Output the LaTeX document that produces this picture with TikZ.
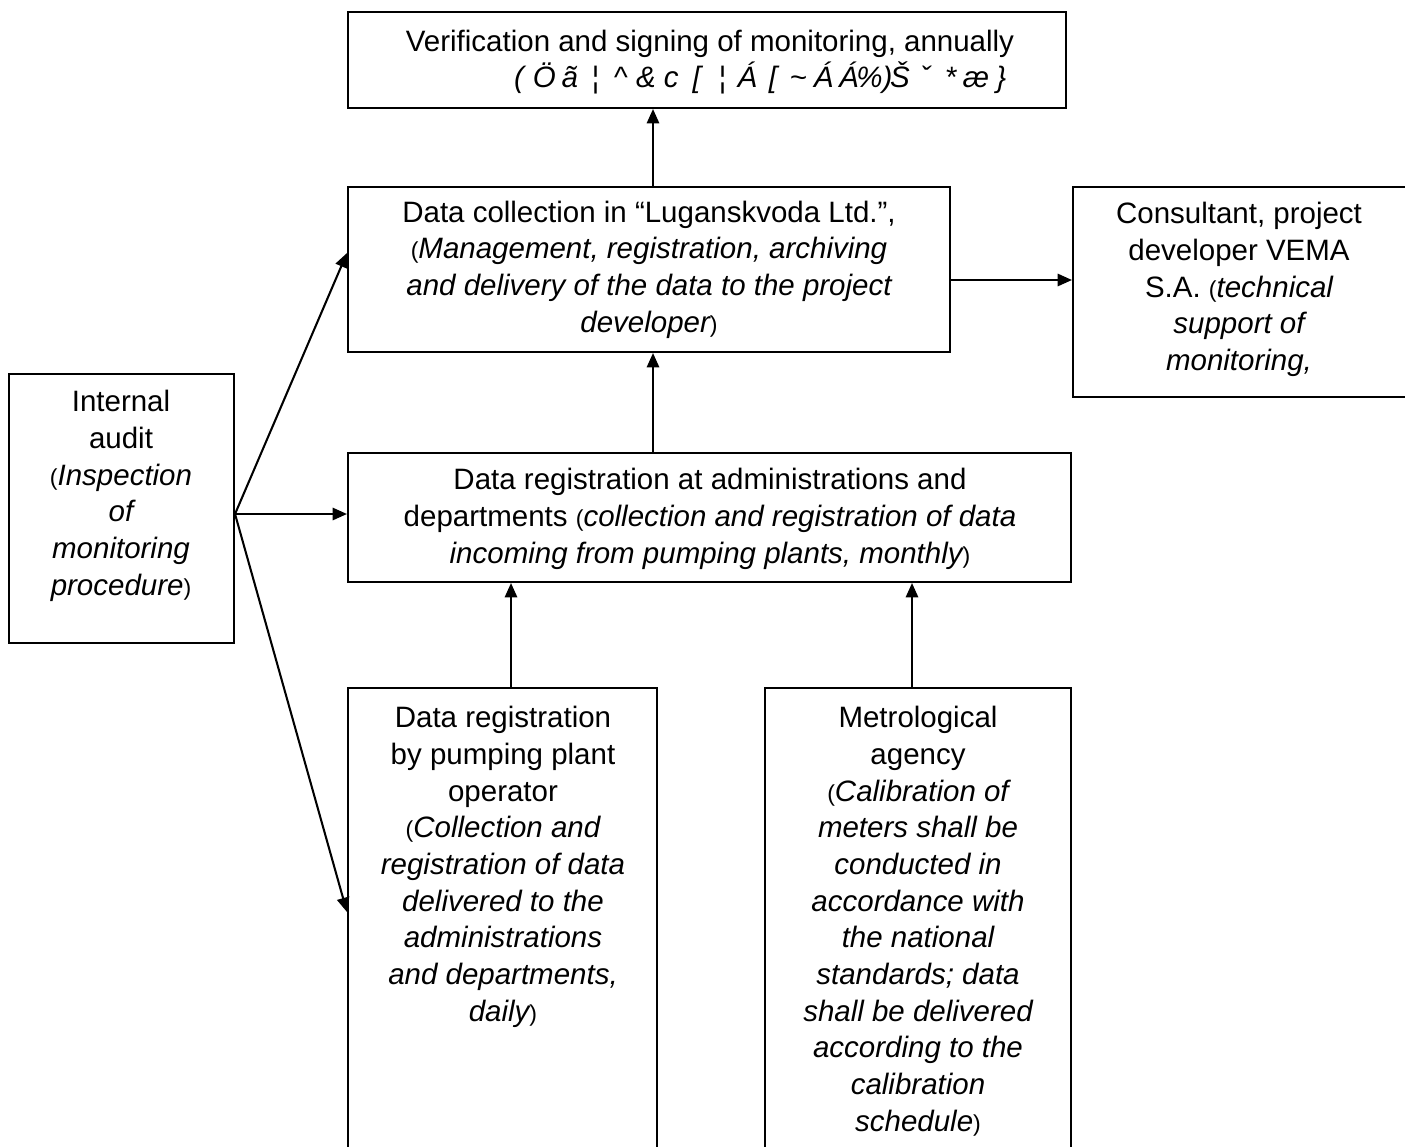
\documentclass[tikz,border=0pt]{standalone}
\usepackage{fontspec}
\setmainfont{Liberation Sans}
\usetikzlibrary{positioning, arrows.meta, fit, calc}

\newcommand{\lp}{{\upshape\small(}}
\newcommand{\rp}{{\upshape\small)}}
\newcommand{\gl}[1]{\makebox[9.9pt]{#1}}

\begin{document}
\begin{tikzpicture}[
    x=0.39pt, y=-0.39pt,
    font=\fontsize{11.5}{14.3}\selectfont,
    blk/.style={draw, line width=0.8pt, inner sep=0pt},
    txt/.style={align=center, inner sep=0pt},
    ar/.style={-{Triangle[length=5.6pt, width=4.8pt]}, line width=0.8pt},
  ]
  \clip (0,0) rectangle (1405,1146);
  \useasboundingbox (0,0) rectangle (1405,1146);

  % boxes
  \node[blk, fit={(348,12) (1066,108)}] (verif) {};
  \node[blk, fit={(348,187) (950,352)}] (dcoll) {};
  \node[blk, fit={(1073,187) (1420,397)}] (cons) {};
  \node[blk, fit={(9,374) (234,643)}] (audit) {};
  \node[blk, fit={(348,453) (1071,582)}] (admin) {};
  \node[blk, fit={(348,688) (657,1160)}] (oper) {};
  \node[blk, fit={(765,688) (1071,1160)}] (metro) {};

  % texts
  \node[txt, align=right] (verift) at (710,62) {Verification and signing of monitoring, annually\\
    \itshape \gl{(}\gl{Ö}\gl{ã}\gl{¦}\gl{\^{}}\gl{\&}\gl{c}\gl{[}\gl{¦}\gl{Á}\gl{[}\gl{\textasciitilde}\gl{Á}\gl{Á}\gl{\%)}\gl{Š}\gl{ˇ}\gl{*}\gl{æ}\gl{\}}};
  \node[txt] (dcollt) at (dcoll.center) {Data collection in “Luganskvoda Ltd.”,\\
    \itshape\lp Management, registration, archiving\\
    \itshape and delivery of the data to the project\\
    \itshape developer\rp};
  \node[txt, anchor=north] (const) at (1239,202) {Consultant, project\\
    developer VEMA\\
    S.A. \itshape\lp technical\\
    \itshape support of\\
    \itshape monitoring,};
  \node[txt, anchor=north] (auditt) at (121,390) {Internal\\
    audit\\
    \itshape\lp Inspection\\
    \itshape of\\
    \itshape monitoring\\
    \itshape procedure\rp};
  \node[txt] (admint) at (710,519) {Data registration at administrations and\\
    departments \itshape\lp collection and registration of data\\
    \itshape incoming from pumping plants, monthly\rp};
  \node[txt, anchor=north] (opert) at (503,706) {Data registration\\
    by pumping plant\\
    operator\\
    \itshape\lp Collection and\\
    \itshape registration of data\\
    \itshape delivered to the\\
    \itshape administrations\\
    \itshape and departments,\\
    \itshape daily\rp};
  \node[txt, anchor=north] (metrot) at (918,706) {Metrological\\
    agency\\
    \itshape\lp Calibration of\\
    \itshape meters shall be\\
    \itshape conducted in\\
    \itshape accordance with\\
    \itshape the national\\
    \itshape standards; data\\
    \itshape shall be delivered\\
    \itshape according to the\\
    \itshape calibration\\
    \itshape schedule\rp};

  % connectors
  \coordinate (fork) at (audit.east |- 0,514);
  \coordinate (dcollin) at (dcoll.west |- 0,253);
  \draw[ar] (dcoll.north -| 653,0) -- (verif.south -| 653,0);
  \draw[ar] (admin.north -| 653,0) -- (dcoll.south -| 653,0);
  \draw[ar] (dcoll.east |- 0,280) -- (cons.west |- 0,280);
  \draw[ar] (fork) -- (admin.west |- fork);
  \draw[ar] (fork) -- (dcollin);
  \draw[ar] (fork) -- (oper.west |- 0,912);
  \draw[ar] (oper.north -| 511,0) -- (admin.south -| 511,0);
  \draw[ar] (metro.north -| 912,0) -- (admin.south -| 912,0);
\end{tikzpicture}
\end{document}
